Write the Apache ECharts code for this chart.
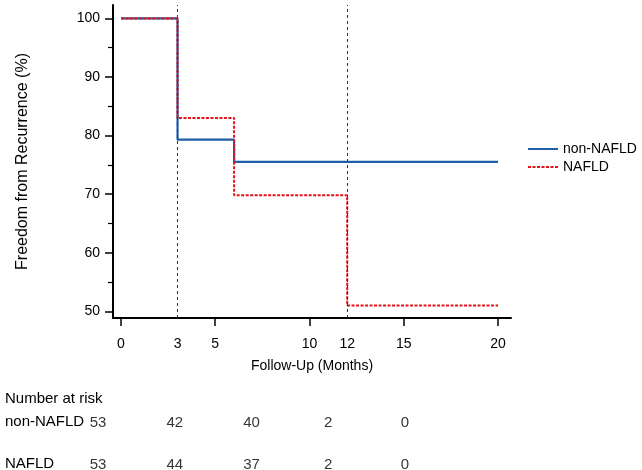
<!DOCTYPE html>
<html>
<head>
<meta charset="utf-8">
<script src="https://cdn.jsdelivr.net/npm/echarts@6/dist/echarts.min.js"></script>
<style>html,body{margin:0;padding:0;background:#fff}#c{width:642px;height:470px}</style>
</head>
<body>
<div id="c"></div>
<script>
const xTickLabels = [0, 3, 5, 10, 12, 15, 20];
const xTicks = [0, 5, 10, 15, 20];
const yTicks = [50, 60, 70, 80, 90, 100];
const yMinorTicks = [55, 65, 75, 85, 95];
const refLines = [3, 12];

const groups = ['non-NAFLD', 'NAFLD'];
const nonNafldTimes = [0, 3, 6, 20];
const nonNafldSurv = [100, 79.3, 75.5, 75.5];
const nafldTimes = [0, 3, 6, 12, 20];
const nafldSurv = [100, 83, 69.8, 51, 51];

const riskTitle = 'Number at risk';
const riskTimes = [0, 5, 10, 15, 20];
const riskNonNafld = [53, 42, 40, 2, 0];
const riskNafld = [53, 44, 37, 2, 0];

const FONT = 'Liberation Sans, Arial, sans-serif';
const zip = (a, b) => a.map((v, i) => [v, b[i]]);

const chart = echarts.init(document.getElementById('c'), null, {renderer: 'canvas'});
chart.setOption({
  backgroundColor: '#fff',
  animation: false,
  textStyle: {fontFamily: FONT, color: '#000'},
  grid: [
    {left: 113, top: 5, width: 398, height: 313},
    {left: 98, top: 423, width: 307, height: 42}
  ],
  legend: {
    orient: 'vertical', left: 522, top: 137, itemWidth: 30, itemHeight: 14, itemGap: 4,
    itemStyle: {opacity: 0},
    textStyle: {fontSize: 14, color: '#000', fontFamily: FONT},
    data: groups
  },
  xAxis: [{
    type: 'value', gridIndex: 0, min: -0.424, max: 20.69,
    name: 'Follow-Up (Months)', nameLocation: 'middle', nameGap: 41,
    nameTextStyle: {fontSize: 14, color: '#000'},
    axisLine: {show: true, onZero: false, lineStyle: {color: '#000', width: 2}},
    axisTick: {show: true, length: 8, lineStyle: {color: '#000', width: 1.5}, customValues: xTicks},
    axisLabel: {fontSize: 14, color: '#000', margin: 19, customValues: xTickLabels},
    splitLine: {show: false}
  }, {
    type: 'value', gridIndex: 1, min: 0, max: 20, show: false
  }],
  yAxis: [{
    type: 'value', gridIndex: 0, min: 48.85, max: 102.3, position: 'left',
    name: 'Freedom from Recurrence (%)', nameLocation: 'middle', nameGap: 82,
    nameTextStyle: {fontSize: 16, color: '#000'},
    axisLine: {show: true, onZero: false, lineStyle: {color: '#000', width: 2}},
    axisTick: {show: true, length: 8, lineStyle: {color: '#000', width: 1.5}, customValues: yTicks},
    axisLabel: {fontSize: 14, color: '#000', margin: 13, customValues: yTicks},
    splitLine: {show: false}
  }, {
    type: 'value', gridIndex: 0, min: 48.85, max: 102.3, position: 'left', offset: 0,
    axisLine: {show: false, onZero: false},
    axisTick: {show: true, length: 5, lineStyle: {color: '#000', width: 1.2}, customValues: yMinorTicks},
    axisLabel: {show: false},
    splitLine: {show: false}
  }, {
    type: 'value', gridIndex: 1, min: 0, max: 1, show: false
  }],
  graphic: [
    {type: 'text', left: 5, top: 391, style: {text: riskTitle, font: '15px ' + FONT, fill: '#000'}},
    {type: 'text', left: 5, top: 414, style: {text: groups[0], font: '15px ' + FONT, fill: '#000'}},
    {type: 'text', left: 5, top: 456, style: {text: groups[1], font: '15px ' + FONT, fill: '#000'}}
  ],
  series: [
    {
      name: groups[0], type: 'line', step: 'end', xAxisIndex: 0, yAxisIndex: 0,
      data: zip(nonNafldTimes, nonNafldSurv), symbol: 'none',
      lineStyle: {color: '#1f5fa8', width: 2.2}, itemStyle: {color: '#1f5fa8'},
      markLine: {
        silent: true, symbol: 'none', label: {show: false},
        lineStyle: {color: '#333', width: 1, type: [3, 3]},
        data: refLines.map(v => ({xAxis: v}))
      }
    },
    {
      name: groups[1], type: 'line', step: 'end', xAxisIndex: 0, yAxisIndex: 0,
      data: zip(nafldTimes, nafldSurv), symbol: 'none',
      lineStyle: {color: '#e3121b', width: 2, type: [3, 1.5]}, itemStyle: {color: '#e3121b'}
    },
    {
      type: 'scatter', xAxisIndex: 1, yAxisIndex: 2, symbolSize: 0, silent: true,
      data: riskTimes.map((t, i) => [t, 1, riskNonNafld[i]]),
      label: {show: true, position: 'inside', formatter: p => String(p.value[2]), fontSize: 15, color: '#000', fontFamily: FONT}
    },
    {
      type: 'scatter', xAxisIndex: 1, yAxisIndex: 2, symbolSize: 0, silent: true,
      data: riskTimes.map((t, i) => [t, 0, riskNafld[i]]),
      label: {show: true, position: 'inside', formatter: p => String(p.value[2]), fontSize: 15, color: '#000', fontFamily: FONT}
    }
  ]
});
</script>
</body>
</html>
